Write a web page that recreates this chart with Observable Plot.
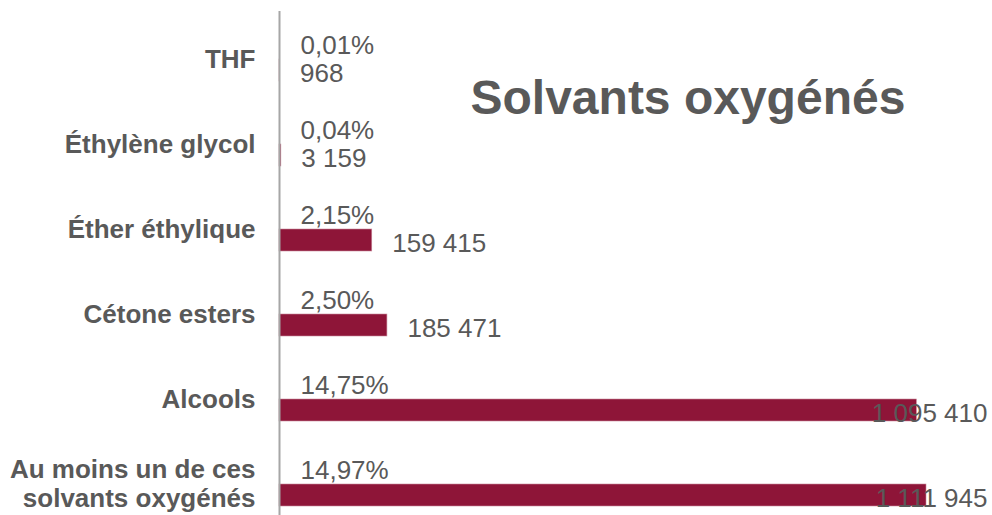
<!DOCTYPE html>
<html>
<head>
<meta charset="utf-8">
<script src="https://cdn.jsdelivr.net/npm/d3@7"></script>
<script src="https://cdn.jsdelivr.net/npm/@observablehq/plot@0.6"></script>
<style>
  html, body { margin: 0; padding: 0; background: #fff; }
  #chart { width: 992px; height: 515px; }
</style>
</head>
<body>
<div id="chart"></div>
<script>
const categories = ["THF", "Éthylène glycol", "Éther éthylique", "Cétone esters", "Alcools", "Au moins un de ces\nsolvants oxygénés"];
const values = [968, 3159, 159415, 185471, 1095410, 1111945];
const percents = [0.01, 0.04, 2.15, 2.50, 14.75, 14.97];
const title = "Solvants oxygénés";

const fr = d3.formatLocale({decimal: ",", thousands: " ", grouping: [3], currency: ["", " €"]});
const fmtInt = fr.format(",d");
const fmtPct = fr.format(".2f");

const rows = categories.map((c, i) => ({cat: c, value: values[i], pct: fmtPct(percents[i]) + "%", label: fmtInt(values[i])}));
const maxV = d3.max(values);
const near = rows.filter(d => d.value <= 0.8 * maxV);
const far = rows.filter(d => d.value > 0.8 * maxV);

const grey = "#595959";
const chart = Plot.plot({
  width: 992,
  height: 515,
  marginLeft: 279,
  marginRight: 66,
  marginTop: 11,
  marginBottom: 0,
  style: {fontFamily: "'Liberation Sans', Arial, sans-serif", background: "#fff"},
  x: {domain: [0, maxV], axis: null},
  y: {domain: categories, paddingInner: 0.74, paddingOuter: 0.31, align: 0.85, label: null},
  marks: [
    Plot.barX(rows, {x: "value", y: "cat", fill: "#8E1538", stroke: "#c98a9c", strokeWidth: 0.6}),
    Plot.ruleX([0], {stroke: "#a6a6a6", strokeWidth: 2}),
    Plot.axisY({tickSize: 0, tickPadding: 24, fontSize: 26, fontWeight: "bold", color: grey, lineHeight: 1.08, dy: -12, label: null}),
    Plot.text(rows, {y: "cat", text: "pct", frameAnchor: "left", textAnchor: "start", lineAnchor: "bottom", dx: 21, dy: -17, fontSize: 26, fill: grey}),
    Plot.text(near, {x: "value", y: "cat", text: "label", textAnchor: "start", lineAnchor: "bottom", dx: 20, dy: 11, fontSize: 26, fill: grey}),
    Plot.text(far, {y: "cat", text: "label", frameAnchor: "right", textAnchor: "end", lineAnchor: "bottom", dx: 61, dy: 11, fontSize: 26, fill: grey}),
    Plot.text([title], {text: d => d, frameAnchor: "top-left", textAnchor: "start", lineAnchor: "bottom", dx: 191, dy: 102, fontSize: 48, fontWeight: "bold", fill: grey})
  ]
});
document.getElementById("chart").appendChild(chart);
</script>
</body>
</html>
